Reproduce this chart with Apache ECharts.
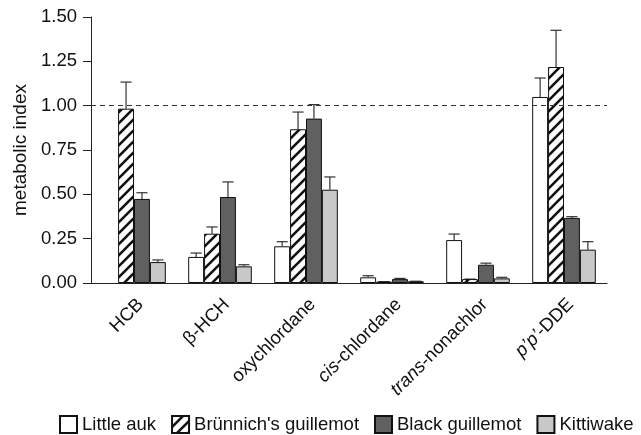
<!DOCTYPE html>
<html>
<head>
<meta charset="utf-8">
<script src="https://cdn.jsdelivr.net/npm/echarts@6/dist/echarts.min.js"></script>
<style>
  html, body { margin: 0; padding: 0; background: #fff; }
  #chart { width: 641px; height: 435px; }
</style>
</head>
<body>
<div id="chart"></div>
<script>
const categories = ['HCB', 'β-HCH', 'oxychlordane', 'cis-chlordane', 'trans-nonachlor', 'p’p’-DDE']
const yTicks = [0, 0.25, 0.5, 0.75, 1, 1.25, 1.5]

// mean values and upper error (SE) per species
const littleAuk = ['-', 0.147, 0.207, 0.032, 0.242, 1.049]
const littleAukErr = ['-', 0.022, 0.026, 0.009, 0.034, 0.107]
const brunnich = [0.983, 0.278, 0.867, 0.008, 0.022, 1.218]
const brunnichErr = [0.150, 0.038, 0.097, 0, 0, 0.207]
const blackG = [0.474, 0.485, 0.927, 0.022, 0.103, 0.367]
const blackGErr = [0.035, 0.085, 0.079, 0.004, 0.009, 0.007]
const kittiwake = [0.118, 0.094, 0.526, 0.010, 0.026, 0.188]
const kittiwakeErr = [0.012, 0.009, 0.072, 0, 0.006, 0.045]

const font = '"Liberation Sans", Arial, sans-serif'
const catGap = 0.26

function hatch() {
    const c = document.createElement('canvas')
    c.width = c.height = 11
    const g = c.getContext('2d')
    g.fillStyle = '#fff'
    g.fillRect(0, 0, 11, 11)
    g.strokeStyle = '#111'
    g.lineWidth = 2.6
    g.beginPath()
    g.moveTo(-3, 14); g.lineTo(14, -3)
    g.moveTo(-3, 3); g.lineTo(3, -3)
    g.moveTo(8, 14); g.lineTo(14, 8)
    g.stroke()
    return c
}

const groups = [
    { name: 'Little auk', data: littleAuk, err: littleAukErr, color: '#ffffff' },
    { name: "Brünnich's guillemot", data: brunnich, err: brunnichErr, color: { image: hatch(), repeat: 'repeat' } },
    { name: 'Black guillemot', data: blackG, err: blackGErr, color: '#606060' },
    { name: 'Kittiwake', data: kittiwake, err: kittiwakeErr, color: '#c8c8c8' }
]

const errorSeries = (grp, idx) => ({
    type: 'custom',
    name: grp.name + ' err',
    silent: true,
    z: 1,
    data: grp.data.map((v, i) => v === '-' ? ['-', '-', '-'] : [i, v, v + grp.err[i]]),
    renderItem: (params, api) => {
        const band = api.size([1, 0])[0]
        const bw = band * (1 - catGap) / groups.length
        const base = api.coord([api.value(0), api.value(1)])
        const top = api.coord([api.value(0), api.value(2)])
        const x = base[0] - bw * groups.length / 2 + (idx + 0.5) * bw
        const cap = bw * 0.35
        const style = { stroke: '#333', lineWidth: 1.2 }
        return {
            type: 'group',
            children: [
                { type: 'line', shape: { x1: x, y1: base[1], x2: x, y2: top[1] }, style },
                { type: 'line', shape: { x1: x - cap, y1: top[1], x2: x + cap, y2: top[1] }, style }
            ]
        }
    }
})

const labelFmt = v => {
    if (v === 'cis-chlordane') return '{i|cis}-chlordane'
    if (v === 'trans-nonachlor') return '{i|trans}-nonachlor'
    if (v === 'p’p’-DDE') return '{i|p’p’}-DDE'
    return v
}

const chart = echarts.init(document.getElementById('chart'))

const option = {
    animation: false,
    textStyle: { fontFamily: font },
    grid: { left: 91, right: 34, top: 17, bottom: 152 },
    legend: {
        left: 59,
        top: 415,
        padding: 0,
        itemWidth: 17,
        itemHeight: 17,
        itemGap: 15,
        icon: 'rect',
        data: groups.map(g => g.name),
        textStyle: { fontFamily: font, fontSize: 18.5, color: '#111' }
    },
    xAxis: {
        type: 'category',
        data: categories,
        axisLine: { lineStyle: { color: '#222', width: 1 } },
        axisTick: { length: 8, lineStyle: { color: '#222' } },
        axisLabel: {
            rotate: 45,
            margin: 12,
            interval: 0,
            verticalAlign: 'top',
            color: '#111',
            fontSize: 18.5,
            fontFamily: font,
            formatter: labelFmt,
            rich: { i: { fontStyle: 'italic', fontSize: 18.5, fontFamily: font, color: '#111' } }
        }
    },
    yAxis: {
        type: 'value',
        min: yTicks[0],
        max: yTicks[yTicks.length - 1],
        interval: 0.25,
        name: 'metabolic index',
        nameLocation: 'middle',
        nameGap: 60,
        nameTextStyle: { fontSize: 19, color: '#111', fontFamily: font },
        axisLine: { show: true, lineStyle: { color: '#222', width: 1 } },
        axisTick: { show: true, length: 8, lineStyle: { color: '#222' } },
        splitLine: { show: false },
        axisLabel: {
            margin: 14,
            color: '#111',
            fontSize: 18.5,
            fontFamily: font,
            formatter: v => v.toFixed(2)
        }
    },
    series: groups.map((g, idx) => ({
        type: 'bar',
        name: g.name,
        data: g.data,
        barGap: '0%',
        barCategoryGap: (catGap * 100) + '%',
        z: 2,
        itemStyle: { color: g.color, borderColor: '#111', borderWidth: 1 },
        markLine: idx === 0 ? {
            silent: true,
            symbol: 'none',
            label: { show: false },
            lineStyle: { color: '#333', type: [5, 4], width: 1 },
            data: [{ yAxis: 1 }]
        } : undefined
    })).concat(groups.map(errorSeries))
}

chart.setOption(option)
</script>
</body>
</html>
